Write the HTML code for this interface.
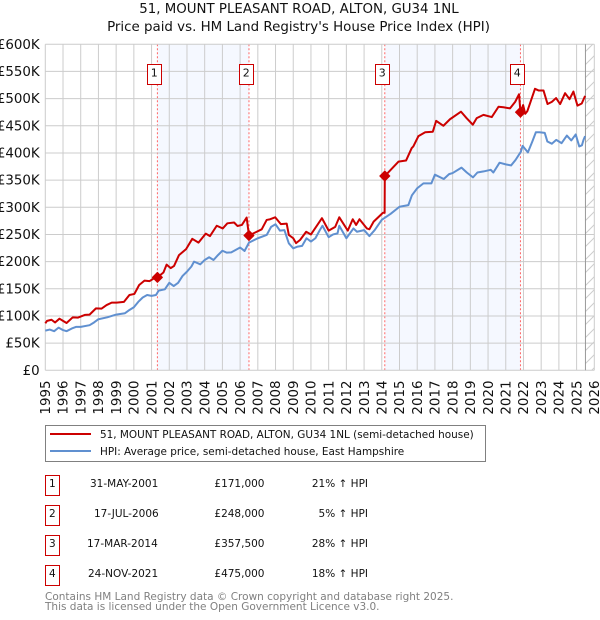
<!DOCTYPE html>
<html>
<head>
<meta charset="utf-8">
<style>
html,body{margin:0;padding:0;background:#fff;width:600px;height:620px;overflow:hidden}
svg{display:block}
text{font-family:"DejaVu Sans","Liberation Sans",sans-serif;fill:#111}
.tick{font-size:13.4px}
.tbl{font-size:10.5px}
.leg{font-size:10.45px}
.foot{font-size:10.5px;fill:#808080}
</style>
</head>
<body>
<svg id="chart" width="600" height="620" viewBox="0 0 600 620" xmlns="http://www.w3.org/2000/svg">
<defs>
<pattern id="hatch" patternUnits="userSpaceOnUse" width="13" height="13">
<line x1="0" y1="13" x2="13" y2="0" stroke="#cccccc" stroke-width="1"/>
</pattern>
</defs>
<text x="299" y="13" text-anchor="middle" font-size="13.35">51, MOUNT PLEASANT ROAD, ALTON, GU34 1NL</text>
<text x="298.5" y="31" text-anchor="middle" font-size="13.4">Price paid vs. HM Land Registry's House Price Index (HPI)</text>
<g id="bands"></g>
<g id="grid"></g>
<g id="future"></g>
<g id="series"></g>
<g id="sales"></g>
<g id="ticks"></g>

<g>
<rect x="45.5" y="425.5" width="440" height="36" fill="#fff" stroke="#808080" stroke-width="1"/>
<line x1="50" y1="434" x2="91" y2="434" stroke="#cc0000" stroke-width="2"/>
<text class="leg" x="100" y="438">51, MOUNT PLEASANT ROAD, ALTON, GU34 1NL (semi-detached house)</text>
<line x1="50" y1="451" x2="91" y2="451" stroke="#6090d0" stroke-width="2"/>
<text class="leg" x="100" y="455">HPI: Average price, semi-detached house, East Hampshire</text>
</g>

<g>
<g>
<rect x="45.5" y="475.5" width="14" height="20" fill="#fff" stroke="#cc0000"/>
<text class="tbl" x="52.3" y="487" text-anchor="middle">1</text>
<text class="tbl" x="90" y="487">31-MAY-2001</text>
<text class="tbl" x="264.5" y="487" text-anchor="end">£171,000</text>
<text class="tbl" x="368" y="487" text-anchor="end">21% ↑ HPI</text>
</g>
<g>
<rect x="45.5" y="505.5" width="14" height="20" fill="#fff" stroke="#cc0000"/>
<text class="tbl" x="52.3" y="517" text-anchor="middle">2</text>
<text class="tbl" x="94" y="517">17-JUL-2006</text>
<text class="tbl" x="264.5" y="517" text-anchor="end">£248,000</text>
<text class="tbl" x="368" y="517" text-anchor="end">5% ↑ HPI</text>
</g>
<g>
<rect x="45.5" y="535.5" width="14" height="20" fill="#fff" stroke="#cc0000"/>
<text class="tbl" x="52.3" y="547" text-anchor="middle">3</text>
<text class="tbl" x="87" y="547">17-MAR-2014</text>
<text class="tbl" x="264.5" y="547" text-anchor="end">£357,500</text>
<text class="tbl" x="368" y="547" text-anchor="end">28% ↑ HPI</text>
</g>
<g>
<rect x="45.5" y="565.5" width="14" height="20" fill="#fff" stroke="#cc0000"/>
<text class="tbl" x="52.3" y="577" text-anchor="middle">4</text>
<text class="tbl" x="88" y="577">24-NOV-2021</text>
<text class="tbl" x="264.5" y="577" text-anchor="end">£475,000</text>
<text class="tbl" x="368" y="577" text-anchor="end">18% ↑ HPI</text>
</g>
</g>
<text class="foot" x="45" y="600">Contains HM Land Registry data © Crown copyright and database right 2025.</text>
<text class="foot" x="45" y="610">This data is licensed under the Open Government Licence v3.0.</text>
</svg>
<script>
const yTickValues = [0, 50, 100, 150, 200, 250, 300, 350, 400, 450, 500, 550, 600];
const xTickYears = [1995,1996,1997,1998,1999,2000,2001,2002,2003,2004,2005,2006,2007,2008,2009,2010,2011,2012,2013,2014,2015,2016,2017,2018,2019,2020,2021,2022,2023,2024,2025,2026];
const saleDates = [2001.33, 2006.5, 2014.17, 2021.83];
const salePrices = [171, 248, 357.5, 475];
const saleLabels = ['1', '2', '3', '4'];
const lastDataDate = 2025.5;
const priceDates = [1995,1995.1,1995.35,1995.55,1995.8,1996,1996.2,1996.55,1996.85,1997.25,1997.5,1997.86,1998.18,1998.46,1998.75,1999.03,1999.44,1999.75,2000.03,2000.3,2000.6,2000.88,2001.2,2001.33,2001.67,2001.85,2002.08,2002.27,2002.55,2002.95,2003.3,2003.65,2004.06,2004.3,2004.68,2005.02,2005.28,2005.66,2005.85,2006.1,2006.37,2006.5,2006.75,2007.22,2007.5,2007.7,2007.98,2008.3,2008.63,2008.75,2009,2009.16,2009.39,2009.73,2010,2010.33,2010.62,2011,2011.37,2011.6,2012.08,2012.36,2012.55,2012.74,2013.16,2013.3,2013.54,2014.07,2014.16,2014.17,2014.94,2015.37,2015.69,2015.78,2016.07,2016.45,2016.88,2017.07,2017.48,2017.85,2018.47,2018.79,2019.14,2019.36,2019.74,2020.21,2020.59,2020.87,2021.24,2021.53,2021.75,2021.83,2021.98,2022.1,2022.22,2022.4,2022.65,2022.85,2023.13,2023.36,2023.6,2023.84,2024.07,2024.35,2024.6,2024.82,2025.05,2025.29,2025.48];
const priceValues = [86.5,91,93,88,95,91,87,97.5,97,102,102.5,114,113.5,120,124.5,124.5,126,138.6,140.5,157,165,164,170.5,171,180,194.5,188,192,212,223,242,235,251.5,247,266,261,270.5,272,265.6,267.5,281,248,252,259.5,276.7,278,281.6,269,270,249,243,234,240,255,250,266,280,257,264,281.6,257,278,267.5,278,261,259.5,273.6,290,290,357.5,384,386,409,412,431,438,439,459,450,462,476,464,452,464,470,466,485,484,482,494,508,475,488,472,477,494,518,515,515,490,494,501,490,510,499,513,487,491,505];
const hpiDates = [1995,1995.25,1995.5,1995.75,1996,1996.2,1996.5,1996.75,1997,1997.5,1997.75,1998,1998.5,1999,1999.5,1999.75,2000,2000.25,2000.5,2000.75,2001,2001.25,2001.4,2001.75,2002,2002.25,2002.5,2002.75,2003,2003.25,2003.4,2003.75,2004,2004.25,2004.5,2004.75,2005,2005.25,2005.5,2006,2006.25,2006.5,2007,2007.5,2007.75,2008,2008.25,2008.5,2008.75,2009,2009.25,2009.5,2009.75,2010,2010.25,2010.5,2010.65,2011,2011.25,2011.5,2011.6,2012,2012.4,2012.6,2013,2013.3,2013.6,2014,2014.5,2015,2015.5,2015.7,2016,2016.35,2016.8,2017,2017.5,2017.8,2018,2018.5,2018.8,2019.15,2019.4,2019.75,2020.15,2020.3,2020.65,2021,2021.3,2021.55,2021.85,2021.95,2022.25,2022.5,2022.7,2022.9,2023.2,2023.35,2023.6,2023.85,2024.15,2024.45,2024.7,2024.95,2025.15,2025.3,2025.39,2025.48];
const hpiValues = [73,75,72,78.5,74,72,77,80,80,83,88,94,97.5,102.5,105,111,116,126,134,138.5,137,138.5,146.6,149,161,155,161,173.6,181.6,191,200,195,203,208,203,212,220,216.5,217,226,219.6,235,243,249,264,268.7,257,258,233.7,224.5,227.6,229,243,237,243,258,266,245,250,252,266,243,261,255,258,247,258,277,288,301,304,322,335,344,344,360,352,361,363,373,364,355,364,366,369,364,382,379,377,387,402,413,401,421,438,438,437,421,417,424,418,432,423,434,412,414,424,431];

const NS = 'http://www.w3.org/2000/svg';
const X0 = 45.3, XPY = 17.71, Y0 = 370.3, YPK = 27.17 / 50;
function xAt(year) { return X0 + (year - 1995) * XPY; }
function yAt(k) { return Y0 - k * YPK; }
function make(tag, attrs, parent) {
  const el = document.createElementNS(NS, tag);
  for (const key in attrs) el.setAttribute(key, attrs[key]);
  parent.appendChild(el);
  return el;
}
function linePath(dates, values) {
  return dates.map(function (d, i) { return (i ? 'L' : 'M') + xAt(d).toFixed(2) + ' ' + yAt(values[i]).toFixed(2); }).join('');
}
const bands = document.getElementById('bands');
const grid = document.getElementById('grid');
const future = document.getElementById('future');
const series = document.getElementById('series');
const sales = document.getElementById('sales');
const ticks = document.getElementById('ticks');
const topY = yAt(600), botY = yAt(0), leftX = xAt(1995), rightX = xAt(2026);

for (let i = 0; i + 1 < saleDates.length; i += 2) {
  const band = make('rect', {x: xAt(saleDates[i]), y: topY, width: xAt(saleDates[i + 1]) - xAt(saleDates[i]), height: botY - topY, fill: '#f5f8ff'}, bands);
  
  
}
yTickValues.forEach(function (v) {
  const ln = make('line', {x1: leftX, x2: rightX, y1: yAt(v), y2: yAt(v), stroke: '#cccccc', 'stroke-width': 1}, grid);
  
  
  const t = make('text', {x: 39.7, y: yAt(v) + 4.5, 'text-anchor': 'end', class: 'tick'}, ticks);
  t.textContent = v === 0 ? '£0' : '£' + v + 'K';
  
  
});
xTickYears.forEach(function (y) {
  const ln = make('line', {x1: xAt(y), x2: xAt(y), y1: topY, y2: botY, stroke: '#cccccc', 'stroke-width': 1}, grid);
  
  
  const px = xAt(y) + 4.7;
  const t = make('text', {x: px, y: 380.5, 'text-anchor': 'end', class: 'tick', transform: 'rotate(-90 ' + px + ' 380.5)'}, ticks);
  t.textContent = y;
  
  
});
const hatch = make('rect', {x: xAt(lastDataDate), y: topY, width: rightX - xAt(lastDataDate), height: botY - topY, fill: 'url(#hatch)'}, future);


const endLine = make('line', {x1: xAt(lastDataDate), x2: xAt(lastDataDate), y1: topY, y2: botY, stroke: '#999999', 'stroke-width': 1}, future);



saleDates.forEach(function (d, i) {
  const ln = make('line', {x1: xAt(d), x2: xAt(d), y1: topY, y2: botY, stroke: '#ff6666', 'stroke-width': 1, 'stroke-dasharray': '2 2'}, bands);
  
  
});
const hpiLine = make('path', {d: linePath(hpiDates, hpiValues), fill: 'none', stroke: '#6090d0', 'stroke-width': 2, 'stroke-linejoin': 'round'}, series);


const priceLine = make('path', {d: linePath(priceDates, priceValues), fill: 'none', stroke: '#cc0000', 'stroke-width': 2, 'stroke-linejoin': 'round'}, series);


saleDates.forEach(function (d, i) {
  const cx = xAt(d), cy = yAt(salePrices[i]), r = 5;
  const mark = make('polygon', {points: (cx - r) + ',' + cy + ' ' + cx + ',' + (cy - r) + ' ' + (cx + r) + ',' + cy + ' ' + cx + ',' + (cy + r), fill: '#cc0000', stroke: '#cc0000', 'stroke-width': 1, 'stroke-linejoin': 'round'}, sales);
  
  
  const box = make('rect', {x: Math.round(cx - 10) + 0.5, y: 64.5, width: 14, height: 20, fill: '#fff', stroke: '#cc0000', 'stroke-width': 1}, sales);
  
  
  const label = make('text', {x: Math.round(cx - 10) + 7.3, y: 76.5, 'text-anchor': 'middle', 'font-size': 11}, sales);
  label.textContent = saleLabels[i];
  
  
});
</script>
</body>
</html>
